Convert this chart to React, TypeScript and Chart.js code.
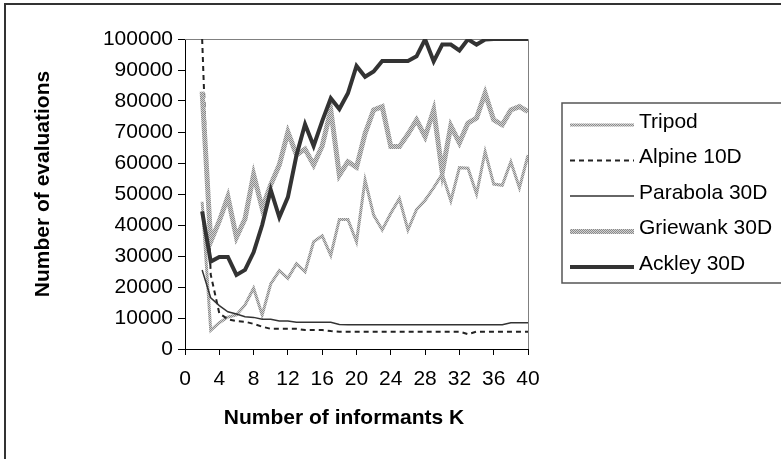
import React, { useEffect, useRef } from "react";
import { Chart, registerables } from "chart.js";

Chart.register(...registerables);

// Number of informants K
const kValues = [2, 3, 4, 5, 6, 7, 8, 9, 10, 11, 12, 13, 14, 15, 16, 17, 18, 19, 20, 21, 22, 23, 24, 25, 26, 27, 28, 29, 30, 31, 32, 33, 34, 35, 36, 37, 38, 39, 40];

const tripod = [47500, 6000, 8500, 10300, 11000, 14200, 19600, 11000, 21000, 25300, 22800, 27500, 24900, 34600, 36500, 30200, 41800, 41800, 34600, 54500, 43200, 38400, 43800, 48500, 38400, 45000, 48000, 52000, 56500, 47800, 58500, 58300, 50000, 63700, 53200, 52800, 60400, 52000, 62500];
const alpine = [100000, 24000, 11500, 9600, 9000, 8800, 8100, 7200, 6500, 6500, 6500, 6500, 6100, 6100, 6100, 5800, 5600, 5600, 5600, 5600, 5600, 5600, 5600, 5600, 5600, 5600, 5600, 5600, 5600, 5600, 5600, 4800, 5600, 5600, 5600, 5600, 5600, 5600, 5600];
const parabola = [25500, 16500, 14000, 12000, 11300, 10400, 10200, 9600, 9600, 9000, 9000, 8600, 8600, 8600, 8600, 8600, 7900, 7800, 7800, 7800, 7800, 7800, 7800, 7800, 7800, 7800, 7800, 7800, 7800, 7800, 7800, 7800, 7800, 7800, 7800, 7800, 8500, 8500, 8500];
const griewank = [83000, 34600, 41300, 49100, 36000, 42000, 56300, 45400, 53000, 59400, 70000, 62600, 64500, 59400, 65500, 77100, 56100, 60400, 58600, 69500, 77100, 78200, 65300, 65300, 69300, 73900, 68500, 77100, 57000, 72000, 66500, 72900, 74500, 82500, 73900, 72300, 77100, 78200, 76600];
const ackley = [44400, 28200, 29700, 29700, 23900, 25500, 31200, 40000, 51300, 42500, 49000, 62500, 72500, 65500, 73500, 80900, 77400, 82500, 91300, 87800, 89500, 92900, 92900, 92900, 92900, 94400, 99900, 92800, 98200, 98200, 96300, 99900, 98200, 99800, 100000, 100000, 100000, 100000, 100000];

const seriesNames = ["Tripod", "Alpine 10D", "Parabola 30D", "Griewank 30D", "Ackley 30D"];
const xTitle = "Number of informants K";
const yTitle = "Number of evaluations";

const FAMILY = "'Liberation Sans', Arial, sans-serif";

export default function App() {
  const ref = useRef<HTMLCanvasElement>(null);

  useEffect(() => {
    const canvas = ref.current!;
    const pc = document.createElement("canvas");
    pc.width = 2;
    pc.height = 2;
    const pctx = pc.getContext("2d")!;
    pctx.fillStyle = "#d2d2d2";
    pctx.fillRect(0, 0, 2, 2);
    pctx.fillStyle = "#8a8a8a";
    pctx.fillRect(0, 0, 1, 1);
    pctx.fillRect(1, 1, 1, 1);
    const pattern = canvas.getContext("2d")!.createPattern(pc, "repeat")!;

    const styles: any[] = [
      { color: pattern, width: 3, dash: [] },
      { color: "#222", width: 2, dash: [5, 4] },
      { color: "#333", width: 1.5, dash: [] },
      { color: pattern, width: 5, dash: [] },
      { color: "#333", width: 4, dash: [] },
    ];
    const seriesData = [tripod, alpine, parabola, griewank, ackley];
    const datasets = seriesData.map((vals, i) => ({
      label: seriesNames[i],
      data: vals.map((v, j) => ({ x: kValues[j], y: v })),
      borderColor: styles[i].color,
      borderWidth: styles[i].width,
      borderDash: styles[i].dash,
      pointRadius: 0,
      pointHoverRadius: 0,
      tension: 0,
      fill: false,
      order: 5 - i,
    }));

    const decor = {
      id: "decor",
      beforeDatasetsDraw(chart: any) {
        const { ctx, chartArea: a } = chart;
        ctx.save();
        ctx.strokeStyle = "#808080";
        ctx.lineWidth = 1;
        ctx.beginPath();
        ctx.moveTo(a.left, a.top + 0.5);
        ctx.lineTo(a.right + 0.5, a.top + 0.5);
        ctx.lineTo(a.right + 0.5, a.bottom);
        ctx.stroke();
        ctx.restore();
      },
      afterDraw(chart: any) {
        const ctx = chart.ctx as CanvasRenderingContext2D;
        ctx.save();
        ctx.strokeStyle = "#333";
        ctx.lineWidth = 2;
        ctx.strokeRect(5, 4, 820, 500);
        ctx.strokeStyle = "#555";
        ctx.lineWidth = 1.5;
        ctx.strokeRect(562, 103, 260, 180);
        ctx.font = `21px ${FAMILY}`;
        ctx.textBaseline = "middle";
        ctx.textAlign = "left";
        ctx.fillStyle = "#000";
        chart.data.datasets.forEach((ds: any, i: number) => {
          const y = 122 + i * 35.5;
          ctx.save();
          ctx.strokeStyle = ds.borderColor;
          ctx.lineWidth = ds.borderWidth;
          ctx.setLineDash(ds.borderDash || []);
          ctx.beginPath();
          ctx.moveTo(570, y + 3);
          ctx.lineTo(634, y + 3);
          ctx.stroke();
          ctx.restore();
          ctx.fillText(ds.label, 639, y);
        });
        ctx.font = `bold 21px ${FAMILY}`;
        ctx.textAlign = "center";
        ctx.fillText(xTitle, 344, 418);
        ctx.translate(43, 184);
        ctx.rotate(-Math.PI / 2);
        ctx.fillText(yTitle, 0, 0);
        ctx.restore();
      },
    };

    const font = { size: 21, family: FAMILY };
    const chart = new Chart(canvas, {
      type: "line",
      data: { datasets },
      plugins: [decor],
      options: {
        animation: false,
        responsive: false,
        devicePixelRatio: 1,
        layout: { padding: { left: 0, right: 253, top: 39, bottom: 0 } },
        plugins: { legend: { display: false }, tooltip: { enabled: false } },
        events: [],
        scales: {
          x: {
            type: "linear",
            min: 0,
            max: 40,
            ticks: { stepSize: 4, color: "#000", font, padding: 12, maxRotation: 0, autoSkip: false, callback: (v: any) => String(v) },
            grid: { display: true, drawOnChartArea: false, drawTicks: true, tickLength: 6, color: "#000" },
            border: { display: true, color: "#000", width: 1 },
            afterFit: (s: any) => { s.height = 110; },
          },
          y: {
            type: "linear",
            min: 0,
            max: 100000,
            ticks: { stepSize: 10000, color: "#000", font, padding: 5, callback: (v: any) => String(v) },
            grid: { display: true, drawOnChartArea: false, drawTicks: true, tickLength: 7, color: "#000" },
            border: { display: true, color: "#000", width: 1 },
            afterFit: (s: any) => { s.width = 185; },
          },
        },
      } as any,
    });
    return () => chart.destroy();
  }, []);

  return (
    <div style={{ position: "absolute", left: 0, top: 0, width: 781, height: 459, background: "#fff" }}>
      <canvas ref={ref} width={781} height={459} />
    </div>
  );
}
